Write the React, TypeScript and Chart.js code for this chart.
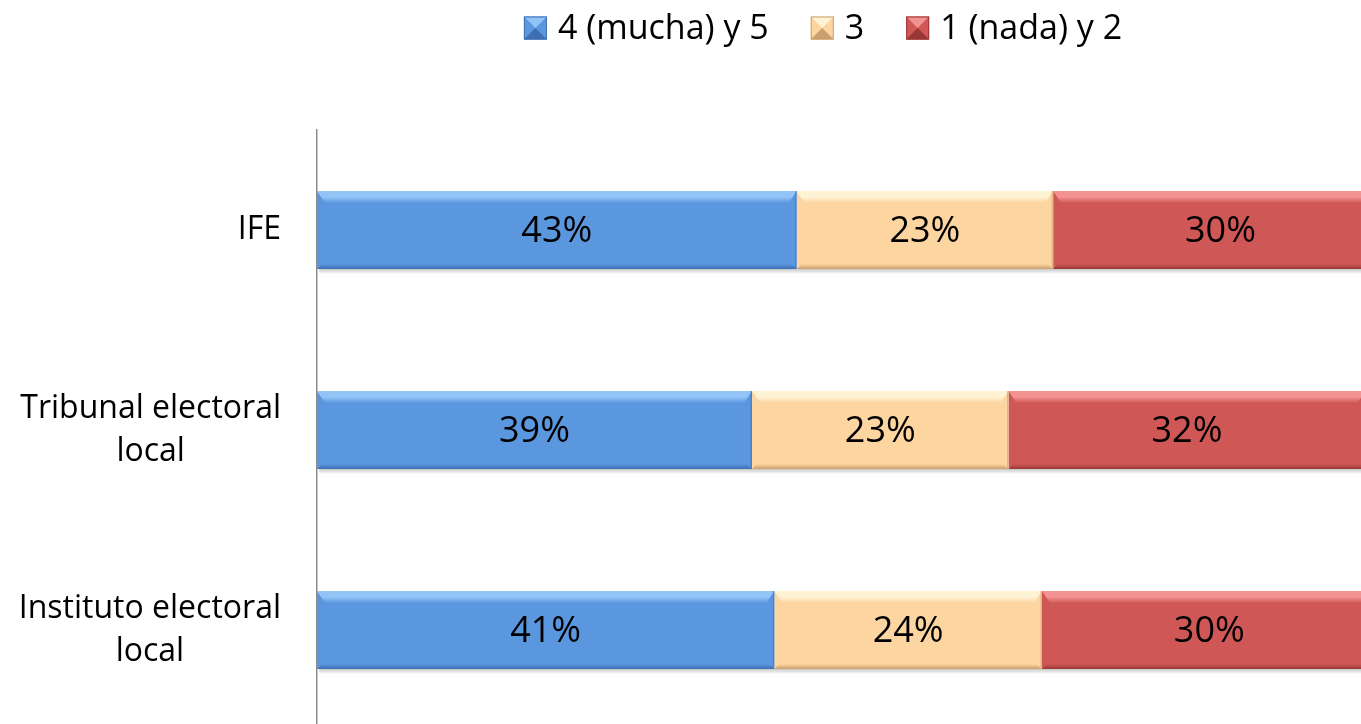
import React, { useEffect, useRef } from "react";
import { Chart, registerables } from "chart.js";

Chart.register(...registerables);

const categories: string[][] = [
  ["IFE"],
  ["Tribunal electoral", "local"],
  ["Instituto electoral", "local"],
];
const seriesLabels = ["4 (mucha) y 5", "3", "1 (nada) y 2"];
const muchaValues = [43, 39, 41];
const tresValues = [23, 23, 24];
const nadaValues = [30, 32, 30];

const FONT = "'Open Sans', 'DejaVu Sans', sans-serif";
const palette = [
  { base: "#5B97DF", light: "#93C4F8", dark: "#3E6FB2" },
  { base: "#FCD5A0", light: "#FFF3D6", dark: "#C9A06E" },
  { base: "#CF5755", light: "#F39391", dark: "#983735" },
];

const bevelPlugin = {
  id: "bevel",
  afterDatasetsDraw(chart: any) {
    const ctx = chart.ctx;
    const area = chart.chartArea;
    ctx.save();
    ctx.beginPath();
    ctx.rect(area.left, area.top, area.right - area.left, area.bottom - area.top + 10);
    ctx.clip();
    chart.data.datasets.forEach((ds: any, di: number) => {
      const meta = chart.getDatasetMeta(di);
      const c = palette[di];
      meta.data.forEach((el: any) => {
        const left = Math.min(el.x, el.base);
        const right = Math.max(el.x, el.base);
        const top = el.y - el.height / 2;
        const bottom = el.y + el.height / 2;
        // shadow
        const sg = ctx.createLinearGradient(0, bottom, 0, bottom + 5);
        sg.addColorStop(0, "rgba(0,0,0,0.22)");
        sg.addColorStop(1, "rgba(0,0,0,0)");
        ctx.fillStyle = sg;
        ctx.fillRect(left + 2, bottom, right - left, 5);
        // top highlight
        const tg = ctx.createLinearGradient(0, top, 0, top + 12);
        tg.addColorStop(0, c.light);
        tg.addColorStop(0.5, c.light);
        tg.addColorStop(1, c.base);
        ctx.fillStyle = tg;
        ctx.beginPath();
        ctx.moveTo(left, top);
        ctx.lineTo(right, top);
        ctx.lineTo(right - 8, top + 12);
        ctx.lineTo(left + 8, top + 12);
        ctx.closePath();
        ctx.fill();
        // bottom dark
        const bg = ctx.createLinearGradient(0, bottom - 5, 0, bottom);
        bg.addColorStop(0, c.base);
        bg.addColorStop(1, c.dark);
        ctx.fillStyle = bg;
        ctx.beginPath();
        ctx.moveTo(left + 5, bottom - 5);
        ctx.lineTo(right - 5, bottom - 5);
        ctx.lineTo(right, bottom);
        ctx.lineTo(left, bottom);
        ctx.closePath();
        ctx.fill();
        // right edge
        ctx.fillStyle = c.dark;
        ctx.globalAlpha = 0.55;
        ctx.fillRect(right - 1.5, top, 1.5, bottom - top);
        ctx.globalAlpha = 1;
      });
    });
    ctx.restore();

    // value labels
    ctx.save();
    ctx.fillStyle = "#000";
    ctx.font = `36px ${FONT}`;
    ctx.textAlign = "center";
    ctx.textBaseline = "middle";
    chart.data.datasets.forEach((ds: any, di: number) => {
      const meta = chart.getDatasetMeta(di);
      meta.data.forEach((el: any, i: number) => {
        const cx = (el.x + el.base) / 2;
        ctx.fillText(`${ds.data[i]}%`, cx, el.y + 2);
      });
    });
    ctx.restore();
  },
  afterDraw(chart: any) {
    const ctx = chart.ctx;
    const yScale = chart.scales.y;
    // category labels
    ctx.save();
    ctx.fillStyle = "#000";
    ctx.font = `32px ${FONT}`;
    ctx.textAlign = "center";
    ctx.textBaseline = "middle";
    const rightEdge = 281;
    const lineH = 43;
    (chart.data.labels as string[][]).forEach((lines, i) => {
      const yc = yScale.getPixelForValue(i);
      const w = Math.max(...lines.map((l) => ctx.measureText(l).width));
      const cx = rightEdge - w / 2;
      const y0 = yc - ((lines.length - 1) * lineH) / 2;
      lines.forEach((l, k) => ctx.fillText(l, cx, y0 + k * lineH));
    });
    ctx.restore();

    // legend
    ctx.save();
    ctx.font = `34px ${FONT}`;
    ctx.textBaseline = "middle";
    ctx.textAlign = "left";
    const box = 23;
    const gap = 11;
    const itemGap = 42;
    const labels = chart.data.datasets.map((d: any) => d.label as string);
    const widths = labels.map((l: string) => box + gap + ctx.measureText(l).width);
    const total = widths.reduce((a: number, b: number) => a + b, 0) + itemGap * (labels.length - 1);
    let x = 823 - total / 2;
    const yc = 28;
    labels.forEach((l: string, i: number) => {
      const c = palette[i];
      const bx = x;
      const by = yc - box / 2;
      ctx.fillStyle = c.base;
      ctx.fillRect(bx, by, box, box);
      const cxm = bx + box / 2;
      const cym = by + box / 2;
      ctx.fillStyle = c.light;
      ctx.beginPath();
      ctx.moveTo(bx, by);
      ctx.lineTo(bx + box, by);
      ctx.lineTo(cxm, cym);
      ctx.closePath();
      ctx.fill();
      ctx.fillStyle = c.dark;
      ctx.beginPath();
      ctx.moveTo(bx, by + box);
      ctx.lineTo(bx + box, by + box);
      ctx.lineTo(cxm, cym);
      ctx.closePath();
      ctx.fill();
      ctx.strokeStyle = c.dark;
      ctx.lineWidth = 1;
      ctx.strokeRect(bx + 0.5, by + 0.5, box - 1, box - 1);
      ctx.fillStyle = "#000";
      ctx.fillText(l, bx + box + gap, yc + 1);
      x += widths[i] + itemGap;
    });
    ctx.restore();
  },
};

export default function App() {
  const ref = useRef<HTMLCanvasElement | null>(null);
  useEffect(() => {
    if (!ref.current) return;
    const chart = new Chart(ref.current, {
      type: "bar",
      data: {
        labels: categories as any,
        datasets: [
          { label: seriesLabels[0], data: muchaValues, backgroundColor: palette[0].base },
          { label: seriesLabels[1], data: tresValues, backgroundColor: palette[1].base },
          { label: seriesLabels[2], data: nadaValues, backgroundColor: palette[2].base },
        ],
      },
      options: {
        indexAxis: "y",
        animation: false,
        responsive: false,
        maintainAspectRatio: false,
        layout: { padding: { top: 130, left: 0, right: 0, bottom: 0 } },
        datasets: { bar: { barPercentage: 0.39, categoryPercentage: 1 } },
        plugins: { legend: { display: false }, tooltip: { enabled: false } },
        scales: {
          x: { stacked: true, display: false, min: 0, max: 93.6 },
          y: {
            stacked: true,
            grid: { display: false },
            ticks: { display: false },
            border: { display: true, color: "#8c8c8c", width: 1.5 },
            afterFit: (s: any) => {
              s.width = 317;
            },
          },
        },
      },
      plugins: [bevelPlugin],
    });
    return () => chart.destroy();
  }, []);
  return (
    <div style={{ position: "fixed", left: 0, top: 0, width: 1361, height: 730, background: "#fff" }}>
      <canvas ref={ref} width={1361} height={730} style={{ display: "block" }} />
    </div>
  );
}
